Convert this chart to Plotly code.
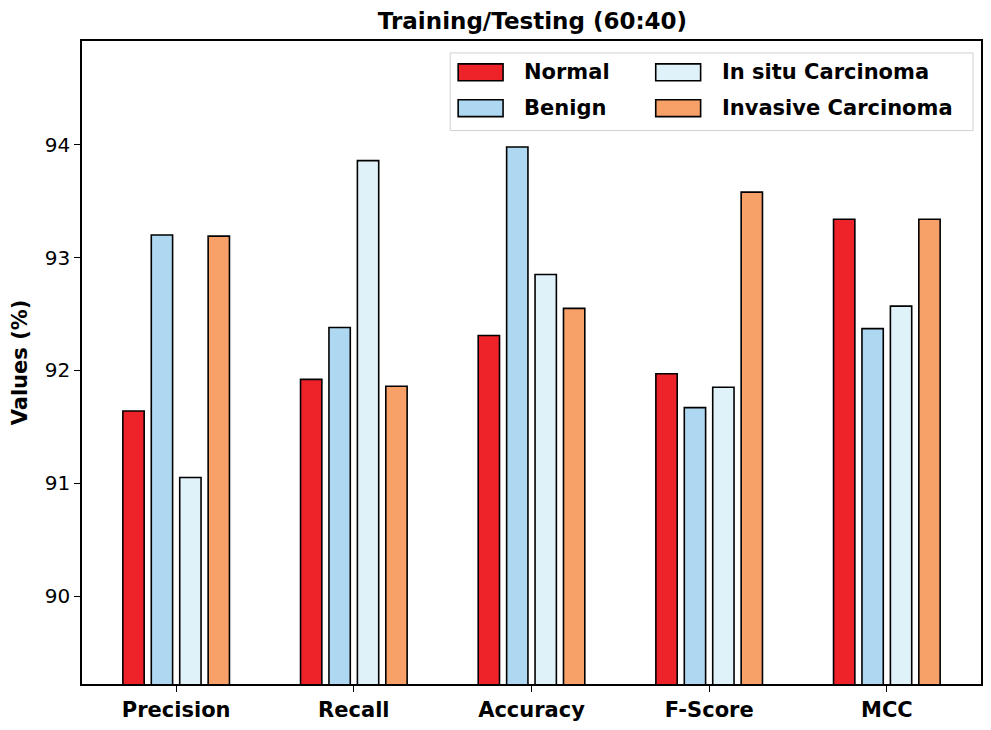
import plotly.graph_objects as go

categories = ["Precision", "Recall", "Accuracy", "F-Score", "MCC"]
series_names = ["Normal", "Benign", "In situ Carcinoma", "Invasive Carcinoma"]
normal = [91.64, 91.92, 92.31, 91.97, 93.34]
benign = [93.20, 92.38, 93.98, 91.67, 92.37]
in_situ = [91.05, 93.86, 92.85, 91.85, 92.57]
invasive = [93.19, 91.86, 92.55, 93.58, 93.34]
y_ticks = [90, 91, 92, 93, 94]

values = [normal, benign, in_situ, invasive]
colors = ["#EE2229", "#AED8F2", "#E0F2F9", "#F7A168"]

# page body has an 8px margin; figure is placed at (8, 8)
OFF = 8
W, H = 991 - OFF, 730 - OFF
L, R, T, B = 82 - OFF, 983 - OFF, 41 - OFF, 687 - OFF
FONT = "DejaVu Sans"

fig = go.Figure()
for name, vals, col in zip(series_names, values, colors):
    fig.add_trace(go.Bar(
        x=categories, y=vals, name=name,
        marker=dict(color=col, line=dict(color="black", width=1.6)),
        showlegend=False,
    ))

def px_x(p):
    return (p - OFF - L) / (R - L)

def px_y(p):
    return (B - (p - OFF)) / (B - T)

shapes = []
annotations = []
# legend frame
shapes.append(dict(type="rect", xref="paper", yref="paper",
                   x0=px_x(451), x1=px_x(975), y0=px_y(131), y1=px_y(53),
                   line=dict(color="#D0D0D0", width=1), fillcolor="rgba(255,255,255,0.8)",
                   layer="above"))
# legend entries: two columns filled column-wise
slots = [(459, 64), (459, 100), (657, 64), (657, 100)]
for (sx, sy), name, col in zip(slots, series_names, colors):
    shapes.append(dict(type="rect", xref="paper", yref="paper",
                       x0=px_x(sx), x1=px_x(sx + 45), y0=px_y(sy + 17), y1=px_y(sy),
                       line=dict(color="black", width=1.6), fillcolor=col, layer="above"))
    annotations.append(dict(xref="paper", yref="paper", x=px_x(sx + 64), y=px_y(sy + 8.5),
                            xanchor="left", yanchor="middle", showarrow=False,
                            text="<b>%s</b>" % name,
                            font=dict(family=FONT, size=21, color="black")))

fig.update_layout(
    width=W, height=H,
    margin=dict(l=L, r=W - R, t=T, b=H - B, pad=0),
    paper_bgcolor="white", plot_bgcolor="white",
    barmode="group", bargap=0.36, bargroupgap=0.25,
    title=dict(text="<b>Training/Testing (60:40)</b>", x=(L + R) / 2 / W, xanchor="center",
               y=1 - (21 - OFF) / H, yanchor="middle",
               font=dict(family=FONT, size=23, color="black")),
    font=dict(family=FONT, color="black"),
    shapes=shapes, annotations=annotations,
)
fig.update_xaxes(
    range=[-0.53, 4.53], showline=True, linecolor="black", linewidth=1.6, mirror=True,
    ticks="outside", ticklen=6, tickwidth=1.4, tickcolor="black",
    tickfont=dict(family=FONT, size=21, color="black"),
    tickvals=categories, ticktext=["<b>%s</b>" % c for c in categories],
    showgrid=False, zeroline=False,
)
fig.update_yaxes(
    range=[89.22, 94.92], showline=True, linecolor="black", linewidth=1.6, mirror=True,
    ticks="outside", ticklen=6, tickwidth=1.4, tickcolor="black",
    tickvals=y_ticks, ticktext=[str(v) for v in y_ticks],
    tickfont=dict(family=FONT, size=20, color="black"),
    title=dict(text="<b>Values (%)</b>", font=dict(family=FONT, size=21, color="black"), standoff=12),
    showgrid=False, zeroline=False,
)

fig.write_html("out.html")
